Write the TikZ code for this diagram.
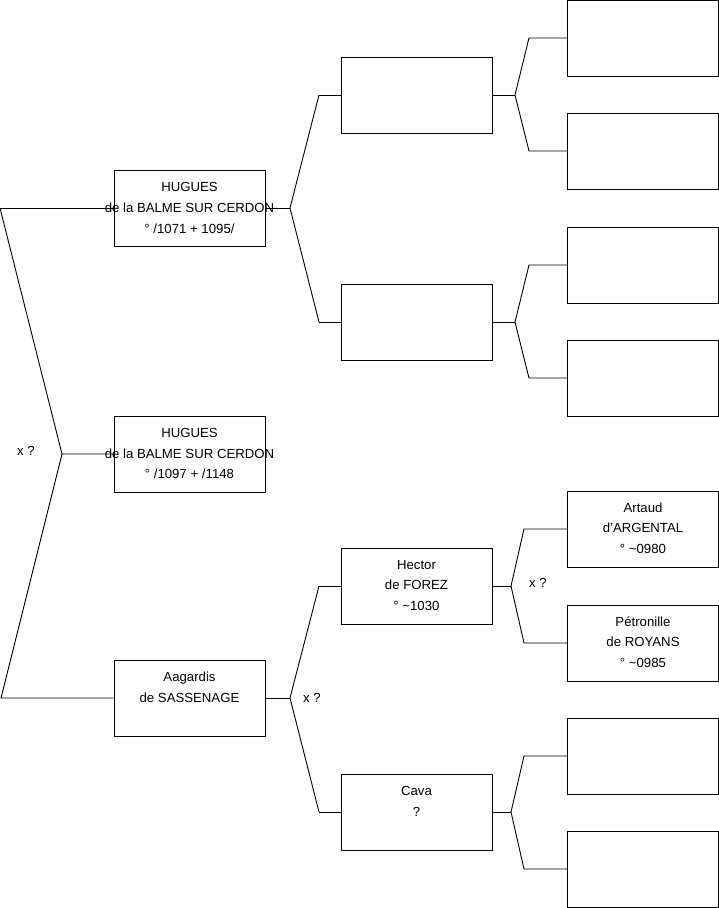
\documentclass[tikz,border=0pt]{standalone}
\usepackage{fontspec}
\setmainfont{Liberation Sans}
\begin{document}
\begin{tikzpicture}[x=1pt,y=-1pt,
  box/.style={draw=black,line width=0.9pt,minimum width=151pt,minimum height=76pt,inner sep=0pt,fill=white},
  txt/.style={anchor=north,inner sep=0pt,align=center,font=\fontsize{13.2}{20.5}\selectfont},
  lbl/.style={inner sep=0pt,font=\fontsize{13.2}{15}\selectfont},
  con/.style={draw=black,line width=0.9pt}]
\useasboundingbox (0,0) rectangle (719,908);
\coordinate (r0) at (0,208);
\coordinate (r1) at (62,454);
\coordinate (r2) at (1,698);
\coordinate (ja) at (290,208);
\coordinate (ja1) at (319,95);
\coordinate (ja2) at (319,322);
\coordinate (jc) at (290,698);
\coordinate (jc1) at (319,586);
\coordinate (jc2) at (319,812);
\coordinate (jd1) at (515,95);
\coordinate (jd1a) at (529,38);
\coordinate (jd1b) at (529,151);
\coordinate (jd2) at (515,322);
\coordinate (jd2a) at (529,265);
\coordinate (jd2b) at (529,378);
\coordinate (jd3) at (511,586);
\coordinate (jd3a) at (524,529);
\coordinate (jd3b) at (524,643);
\coordinate (jd4) at (511,812);
\coordinate (jd4a) at (524,756);
\coordinate (jd4b) at (524,869);
% boxes
\node[box] (a) at (189.5,208) {};
\node[box] (b) at (189.5,454) {};
\node[box] (c) at (189.5,698) {};
\node[box] (d1) at (416.5,95) {};
\node[box] (d2) at (416.5,322) {};
\node[box] (d3) at (416.5,586) {};
\node[box] (d4) at (416.5,812) {};
\node[box] (e1) at (643,38) {};
\node[box] (e2) at (643,151) {};
\node[box] (e3) at (643,265) {};
\node[box] (e4) at (643,378) {};
\node[box] (e5) at (643,529) {};
\node[box] (e6) at (643,643) {};
\node[box] (e7) at (643,756) {};
\node[box] (e8) at (643,869) {};
% connectors
\draw[con] (r0) -- (a.west);
\draw[con] (r0) -- (r1) -- (b.west);
\draw[con] (r1) -- (r2) -- (c.west);
\draw[con] (a.east) -- (ja);
\draw[con] (ja1) -- (ja) -- (ja2);
\draw[con] (ja1) -- (d1.west);
\draw[con] (ja2) -- (d2.west);
\draw[con] (c.east) -- (jc);
\draw[con] (jc1) -- (jc) -- (jc2);
\draw[con] (jc1) -- (d3.west);
\draw[con] (jc2) -- (d4.west);
\draw[con] (d1.east) -- (jd1);
\draw[con] (e1.west) -- (jd1a) -- (jd1) -- (jd1b) -- (e2.west);
\draw[con] (d2.east) -- (jd2);
\draw[con] (e3.west) -- (jd2a) -- (jd2) -- (jd2b) -- (e4.west);
\draw[con] (d3.east) -- (jd3);
\draw[con] (e5.west) -- (jd3a) -- (jd3) -- (jd3b) -- (e6.west);
\draw[con] (d4.east) -- (jd4);
\draw[con] (e7.west) -- (jd4a) -- (jd4) -- (jd4b) -- (e8.west);
% texts
\node[txt,font=\fontsize{13.2}{21}\selectfont] (ta) at ([yshift=-12.5pt]a.north) {HUGUES\\de la BALME SUR CERDON\\° /1071 + 1095/};
\node[txt] (tb) at ([yshift=-13pt]b.north) {HUGUES\\de la BALME SUR CERDON\\° /1097 + /1148};
\node[txt] (tc) at ([yshift=-12.5pt]c.north) {Aagardis\\de SASSENAGE};
\node[txt] (td3) at ([yshift=-12.5pt]d3.north) {Hector\\de FOREZ\\° \textasciitilde1030};
\node[txt] (td4) at ([yshift=-13pt]d4.north) {Cava\\?};
\node[txt] (te5) at ([yshift=-12pt]e5.north) {Artaud\\d'ARGENTAL\\° \textasciitilde0980};
\node[txt] (te6) at ([yshift=-12pt]e6.north) {Pétronille\\de ROYANS\\° \textasciitilde0985};
\node[lbl] (x1) at (26,451) {x ?};
\node[lbl] (x2) at (312,698) {x ?};
\node[lbl] (x3) at (538,583) {x ?};
\end{tikzpicture}
\end{document}
